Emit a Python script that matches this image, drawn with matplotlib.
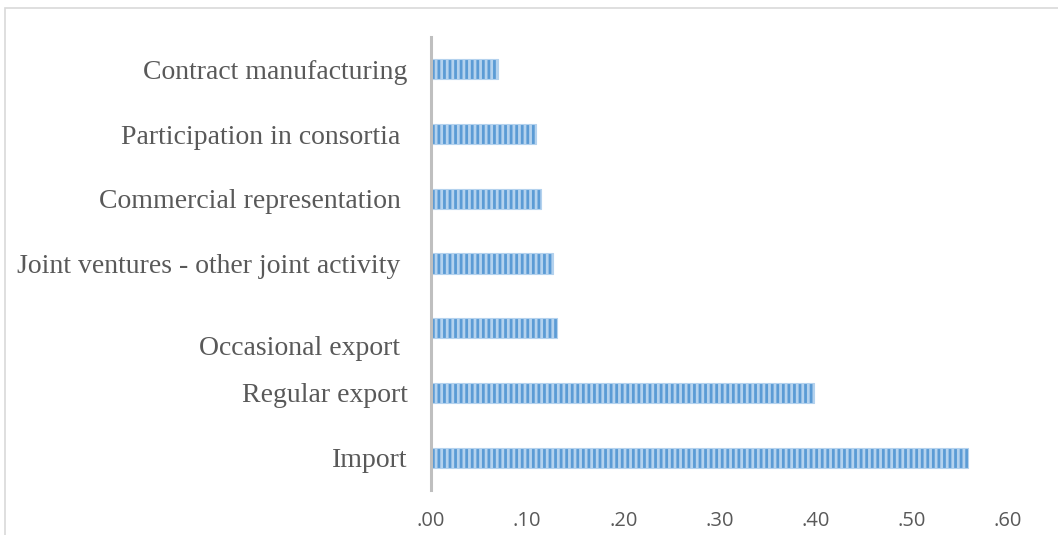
import matplotlib
matplotlib.use("Agg")
import matplotlib.pyplot as plt
from matplotlib.patches import Rectangle
from matplotlib.transforms import ScaledTranslation

# Forms of internationalisation (share of firms)
categories = [
    "Import",
    "Regular export",
    "Occasional export ",
    "Joint ventures - other joint activity ",
    "Commercial representation ",
    "Participation in consortia ",
    "Contract manufacturing",
]
values = [0.558, 0.398, 0.131, 0.127, 0.114, 0.109, 0.070]
x_ticks = [0.0, 0.1, 0.2, 0.3, 0.4, 0.5, 0.6]
x_tick_labels = [".00", ".10", ".20", ".30", ".40", ".50", ".60"]

plt.rcParams["hatch.linewidth"] = 2.0

fig = plt.figure(figsize=(10.58, 5.35), dpi=100)
ax = fig.add_axes([431 / 1058, 1 - 490 / 535, (1008 - 431) / 1058, 453 / 535])

pos = list(range(len(categories)))
ax.barh(pos, values, height=0.31, color="#5B9BD5", edgecolor="#B4D2EE",
        hatch="|||", linewidth=0.8, zorder=2)

ax.set_xlim(0, 0.6)
ax.set_ylim(-0.5, len(categories) - 0.5)
ax.set_xticks(x_ticks)
ax.set_xticklabels(x_tick_labels, fontsize=14.5, color="#595959",
                   family=["Open Sans", "DejaVu Sans"])
ax.set_yticks(pos)
ax.set_yticklabels(categories, fontsize=20, color="#595959",
                   family=["Liberation Serif", "DejaVu Serif"])
ax.tick_params(axis="x", length=0, pad=15)
ax.tick_params(axis="y", length=0, pad=17)

# The "Occasional export" label sits a little lower than its bar
lbl = ax.get_yticklabels()[2]
lbl.set_transform(lbl.get_transform() + ScaledTranslation(0, -0.17, fig.dpi_scale_trans))

for s in ["top", "right", "bottom"]:
    ax.spines[s].set_visible(False)
ax.spines["left"].set_color("#BFBFBF")
ax.spines["left"].set_linewidth(2.2)
ax.spines["left"].set_zorder(3)

# Chart area border
fig.patches.append(Rectangle((5 / 1058, -0.1), 1.2, 1 - 8 / 535 + 0.1,
                             transform=fig.transFigure, fill=False,
                             edgecolor="#D9D9D9", linewidth=1.2))

fig.savefig("out.png", dpi=100)
